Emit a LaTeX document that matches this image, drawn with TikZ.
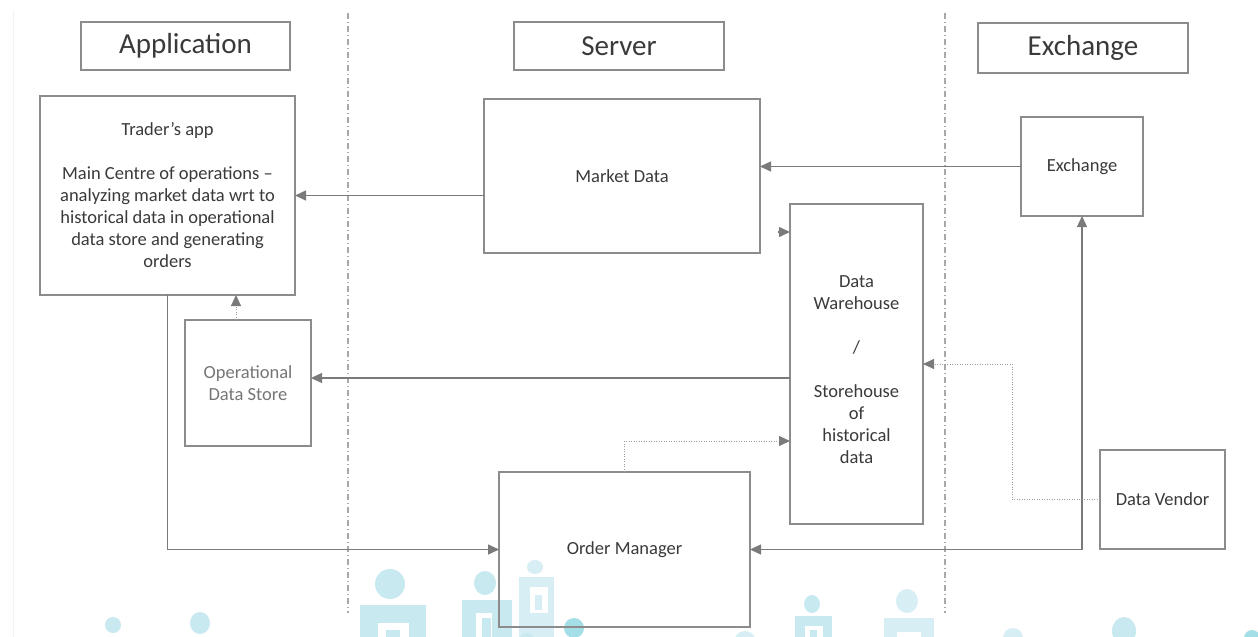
\documentclass[tikz,border=0pt]{standalone}
\usepackage{fontspec}
\setmainfont{Carlito}
\usetikzlibrary{arrows.meta}
\definecolor{boxgray}{HTML}{8C8C8C}
\definecolor{linegray}{HTML}{7A7A7A}
\definecolor{dotgray}{HTML}{9C9C9C}
\definecolor{txt}{HTML}{3A3A3A}
\definecolor{odstxt}{HTML}{767676}
\definecolor{wm}{HTML}{C8E9EF}
\definecolor{wmdark}{HTML}{A4DEE6}
\definecolor{wmlight}{HTML}{D6EEF4}
\definecolor{sepgray}{HTML}{A8A8A8}
\definecolor{edgegray}{HTML}{F2F2F2}
\begin{document}
\begin{tikzpicture}[x=1pt,y=-1pt,
  box/.style={draw=boxgray, line width=1.4pt, inner sep=0pt, outer sep=0pt, align=center, text=txt, font=\fontsize{18.5}{22}\selectfont},
  hdr/.style={box, font=\fontsize{29}{34}\selectfont},
  arr/.style={draw=linegray, line width=1.4pt, -{Triangle[length=11pt,width=10pt]}},
  arrboth/.style={draw=linegray, line width=1.4pt, {Triangle[length=11pt,width=10pt]}-{Triangle[length=11pt,width=10pt]}},
  darr/.style={draw=dotgray, line width=1pt, dash pattern=on 1pt off 1.5pt, -{Triangle[length=11pt,width=10pt,color=linegray]}},
  lane/.style={draw=sepgray, line width=1.2pt, dash pattern=on 6pt off 3pt on 1pt off 3pt}
]
\useasboundingbox (0,0) rectangle (1258,637);
\fill[white] (0,0) rectangle (1258,637);
\draw[edgegray, line width=1pt] (13,10) -- (13,637);

% watermark figures
\fill[wm] (113,625) ellipse [x radius=8, y radius=8];
\fill[wm] (200,623) ellipse [x radius=10, y radius=11];
\fill[wm] (390,584) ellipse [x radius=15, y radius=15];
\fill[wm] (360,605) rectangle (426,637);
\fill[white] (378,623) rectangle (409,637);
\fill[wm] (386,630) rectangle (400,637);
\fill[wm] (485,583) ellipse [x radius=11, y radius=12];
\fill[wm] (462,600) rectangle (512,637);
\fill[white] (476,613) rectangle (492,637);
\fill[wm] (482,618) rectangle (491,637);
\fill[wmlight] (535,567) ellipse [x radius=8, y radius=7];
\fill[wmlight] (519,577) rectangle (554,637);
\fill[white] (530,587) rectangle (548,613);
\fill[wmlight] (535,595) rectangle (542,610);
\fill[wmdark] (574,628) circle [radius=10];
\fill[wm] (527,640) circle [radius=7];
\fill[wmlight] (745,642) circle [radius=11];
\fill[wm] (812,604) ellipse [x radius=8, y radius=9];
\fill[wm] (795,616) rectangle (832,637);
\fill[white] (805,626) rectangle (823,637);
\fill[wm] (810,630) rectangle (817,637);
\fill[wmlight] (907,601) ellipse [x radius=11, y radius=12];
\fill[wmlight] (884,618) rectangle (934,637);
\fill[white] (897,632) rectangle (921,637);
\fill[wmlight] (1013,638) circle [radius=10];
\fill[wm] (1124,631) ellipse [x radius=12, y radius=14];
\fill[wmdark] (1252,638) circle [radius=8];

% lane separators
\coordinate (l1t) at (348,13); \coordinate (l1b) at (348,613);
\coordinate (l2t) at (945,13); \coordinate (l2b) at (945,613);
\draw[lane] (l1t) -- (l1b);
\draw[lane] (l2t) -- (l2b);

% headers
\node[hdr, minimum width=209pt, minimum height=48pt] (hApp) at (185.5,46) {Application};
\node[hdr, minimum width=210pt, minimum height=48pt] (hSrv) at (619,46) {Server};
\node[hdr, minimum width=210pt, minimum height=50pt] (hExc) at (1083,48) {Exchange};

% boxes
\node[box, minimum width=255pt, minimum height=199pt] (trader) at (167.5,195.5)
  {Trader’s app\\[22pt]Main Centre of operations –\\analyzing market data wrt to\\historical data in operational\\data store and generating\\orders};
\node[box, minimum width=276pt, minimum height=154pt] (market) at (622,176) {Market Data};
\node[box, minimum width=122pt, minimum height=99pt] (exch) at (1082,166.5) {Exchange};
\node[box, minimum width=133pt, minimum height=320pt] (dw) at (856.5,364) {};
\node[align=center, text=txt, font=\fontsize{18.5}{22}\selectfont, inner sep=0pt] (dwtext) at (856.5,370)
  {Data\\Warehouse\\[22pt]/\\[22pt]Storehouse\\of\\historical\\data};
\node[box, minimum width=126pt, minimum height=126pt, text=odstxt] (ods) at (248,383) {Operational\\Data Store};
\node[box, minimum width=251pt, minimum height=155pt] (om) at (624.5,549.5) {Order Manager};
\node[box, minimum width=125pt, minimum height=99pt] (dv) at (1162.5,499.5) {Data Vendor};

% connectors
\draw[arr] (market.west |- trader.east) -- (trader.east);
\draw[arr] (exch.west) -- (market.east |- exch.west);
\coordinate (mdstub) at (778,232);
\draw[arr] (mdstub) -- (dw.west |- mdstub);
\draw[arr] (dw.west |- 0,378) -- (ods.east |- 0,378);
\draw[darr] (ods.north -| 236,0) -- (trader.south -| 236,0);
\draw[darr] (om.north) |- (dw.west |- 0,441);
\coordinate (dvbend) at (1012,364);
\draw[darr] (dv.west) -| (dvbend) -- (dw.east);
\draw[arr] (trader.south) |- (om.west);
\draw[arrboth] (om.east) -| (exch.south);
\end{tikzpicture}
\end{document}
